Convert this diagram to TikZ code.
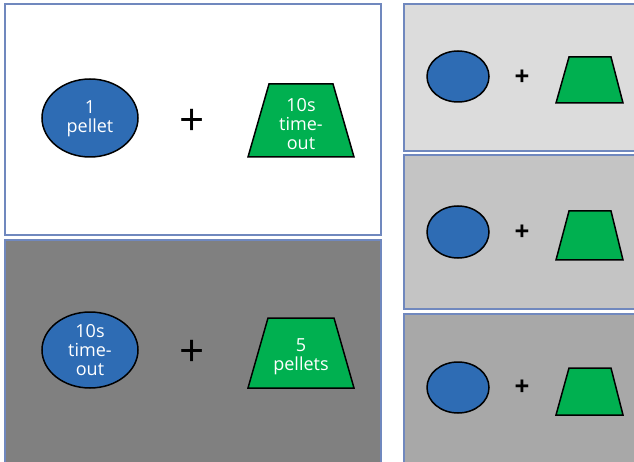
\documentclass[tikz,border=0pt]{standalone}
\usepackage{fontspec}
\setmainfont{Open Sans}
\usetikzlibrary{shapes.geometric}
\definecolor{pblue}{RGB}{46,108,180}
\definecolor{pgreen}{RGB}{0,176,80}
\definecolor{frame}{RGB}{112,136,190}
\definecolor{gmid}{RGB}{128,128,128}
\definecolor{gA}{RGB}{220,220,220}
\definecolor{gB}{RGB}{196,196,196}
\definecolor{gC}{RGB}{168,168,168}
\tikzset{
  panel/.style={draw=frame, line width=1.5pt},
  oval/.style={ellipse, draw=black, line width=1.5pt, fill=pblue, inner sep=0pt},
  trap/.style={draw=black, line width=1.5pt, fill=pgreen, line join=miter},
  lbl/.style={text=white, align=center, font=\fontsize{18}{19}\selectfont},
  bigplus/.style={font=\fontsize{44}{44}\selectfont, inner sep=0pt},
  smallplus/.style={font=\bfseries\fontsize{26}{26}\selectfont, inner sep=0pt}
}
\begin{document}
\begin{tikzpicture}[x=1pt,y=-1pt]
\useasboundingbox (0,0) rectangle (634,462);
\clip (0,0) rectangle (634,462);
\fill[white] (0,0) rectangle (634,462);
% left panels
\draw[panel, fill=white] (5,4) rectangle (381,235);
\draw[panel, fill=gmid] (5,240) rectangle (381,466);
% right panels
\draw[panel, fill=gA] (404,4) rectangle (640,151);
\draw[panel, fill=gB] (404,155) rectangle (640,309);
\draw[panel, fill=gC] (404,314) rectangle (640,466);

% panel 1
\node[oval, minimum width=96pt, minimum height=78pt] (e1) at (90,118) {};
\node[lbl] (t1) at (90,119) {1\\pellet};
\node[bigplus] (p1) at (192,122) {+};
\draw[trap] (269,84) -- (333,84) -- (354,157) -- (248,157) -- cycle;
\node[lbl] (t2) at (301,124) {10s\\time-\\out};

% panel 2
\node[oval, minimum width=96pt, minimum height=76pt] (e2) at (90,350) {};
\node[lbl] (t3) at (90,350) {10s\\time-\\out};
\node[bigplus] (p2) at (192,353) {+};
\draw[trap] (268,318) -- (334,318) -- (354,388) -- (248,388) -- cycle;
\node[lbl] (t4) at (301,357) {5\\pellets};

% right panels
\node[oval, minimum width=62pt, minimum height=51pt] (e3) at (458,76.5) {};
\node[smallplus] (p3) at (522,78) {+};
\draw[trap] (569,57) -- (611,57) -- (623,103) -- (556,103) -- cycle;

\node[oval, minimum width=62pt, minimum height=52pt] (e4) at (458,232) {};
\node[smallplus] (p4) at (522,233) {+};
\draw[trap] (569,211) -- (611,211) -- (623,260) -- (556,260) -- cycle;

\node[oval, minimum width=62pt, minimum height=51pt] (e5) at (458,387.5) {};
\node[smallplus] (p5) at (522,388) {+};
\draw[trap] (569,368) -- (611,368) -- (623,415) -- (556,415) -- cycle;
\end{tikzpicture}
\end{document}
